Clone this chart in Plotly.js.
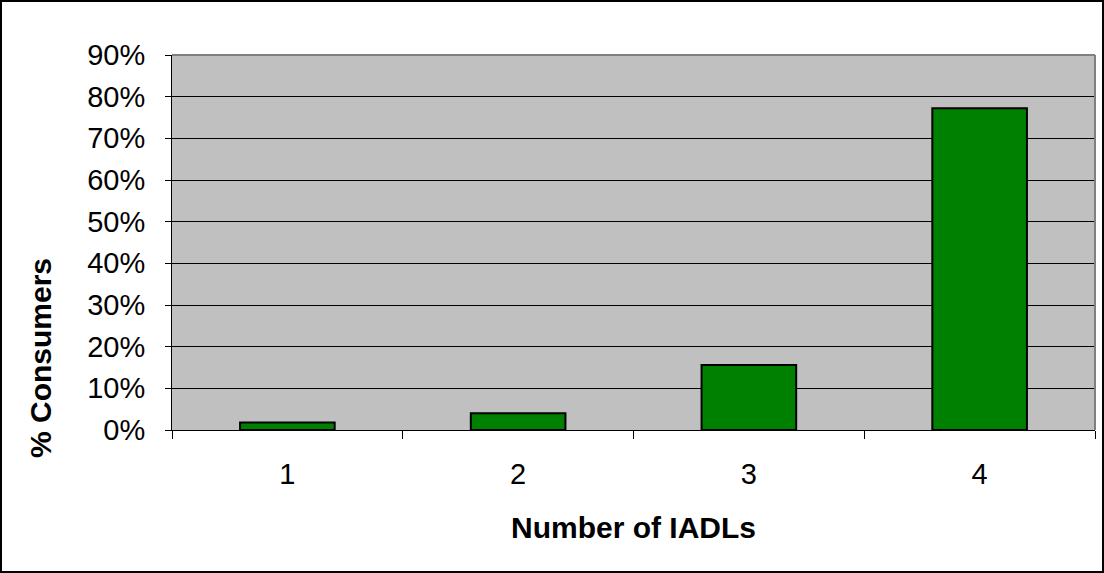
<!DOCTYPE html>
<html>
<head>
<meta charset="utf-8">
<script src="https://cdn.plot.ly/plotly-3.0.1.min.js"></script>
<style>
  html, body { margin: 0; padding: 0; background: #ffffff; }
  #wrap { position: relative; width: 1104px; height: 573px; }
  #chart { width: 1104px; height: 573px; }
  #frame { position: absolute; left: 0; top: 0; width: 1104px; height: 573px;
           box-sizing: border-box; border: 2px solid #000; pointer-events: none; }
</style>
</head>
<body>
<div id="wrap">
  <div id="chart"></div>
  <div id="frame"></div>
</div>
<script>
const categories = ['1', '2', '3', '4'];
const consumerPct = [1.8, 4.0, 15.6, 77.2];
const yTickValues = [0, 10, 20, 30, 40, 50, 60, 70, 80, 90];
const xTitle = 'Number of IADLs';
const yTitle = '% Consumers';

const FONT = 'Liberation Sans, Arial, Helvetica, sans-serif';

const trace = {
  type: 'bar',
  x: categories,
  y: consumerPct,
  marker: { color: '#008000', line: { color: '#000000', width: 2 } },
  hoverinfo: 'skip'
};

const layout = {
  width: 1104,
  height: 573,
  autosize: false,
  margin: { l: 172, r: 9, t: 55, b: 143 },
  paper_bgcolor: '#ffffff',
  plot_bgcolor: '#c0c0c0',
  bargap: 0.59,
  showlegend: false,
  font: { family: FONT, size: 29, color: '#000' },
  xaxis: {
    type: 'category',
    tickson: 'boundaries',
    ticks: 'outside',
    ticklen: 8,
    tickwidth: 1,
    tickcolor: '#000',
    showline: true,
    linecolor: '#000',
    linewidth: 1,
    showgrid: false,
    zeroline: false,
    ticklabelstandoff: 18,
    tickfont: { family: FONT, size: 29, color: '#000' },
    title: { text: xTitle, font: { family: FONT, size: 30, color: '#000', weight: 'bold' }, standoff: 28 }
  },
  yaxis: {
    range: [0, 90],
    tickvals: yTickValues,
    ticktext: yTickValues.map(v => v + '%'),
    ticks: 'outside',
    ticklen: 6,
    tickwidth: 1,
    tickcolor: '#000',
    showline: true,
    linecolor: '#000',
    linewidth: 1,
    showgrid: true,
    gridcolor: '#000',
    gridwidth: 1,
    zeroline: false,
    ticklabelstandoff: 14,
    tickfont: { family: FONT, size: 29, color: '#000' }
  },
  shapes: [
    { type: 'line', xref: 'paper', yref: 'paper', x0: 0, x1: 1, y0: 1, y1: 1,
      line: { color: '#808080', width: 2 }, layer: 'above' },
    { type: 'line', xref: 'paper', yref: 'paper', x0: 1, x1: 1, y0: 0, y1: 1,
      line: { color: '#808080', width: 2 }, layer: 'above' }
  ],
  annotations: [
    { text: yTitle, textangle: -90, xref: 'paper', yref: 'paper',
      x: -0.143, y: 0.192, xanchor: 'center', yanchor: 'middle', showarrow: false,
      font: { family: FONT, size: 30, color: '#000', weight: 'bold' } }
  ]
};

Plotly.newPlot('chart', [trace], layout, { staticPlot: true, displayModeBar: false });
</script>
</body>
</html>
